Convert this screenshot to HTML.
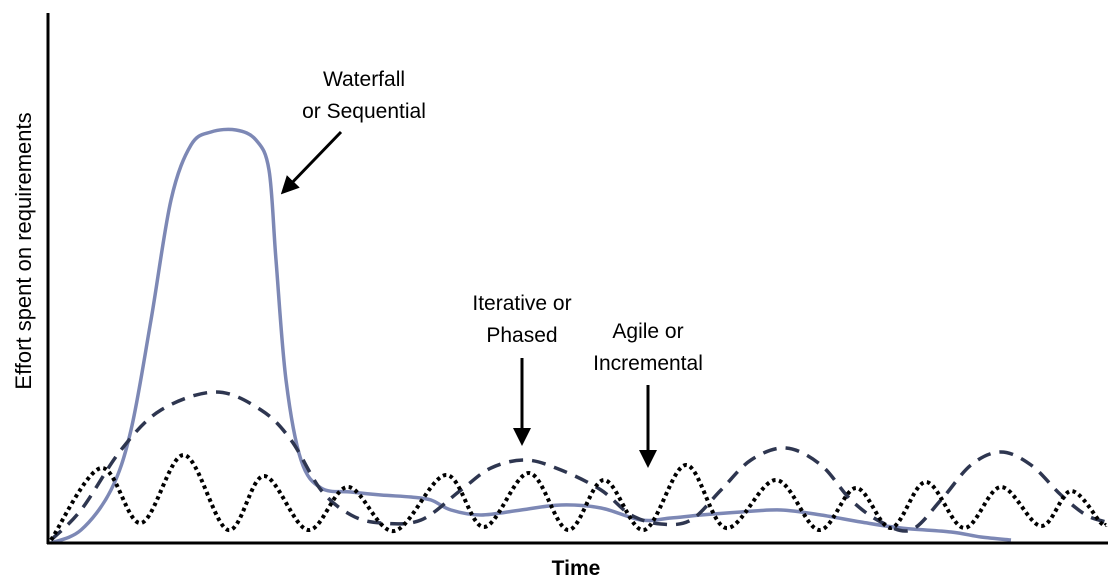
<!DOCTYPE html>
<html><head><meta charset="utf-8"><style>
html,body{margin:0;padding:0;background:#fff;}
svg{display:block;font-family:"Liberation Sans",sans-serif;}
</style></head><body>
<svg id="chart" width="1108" height="582" viewBox="0 0 1108 582">
<defs><marker id="ah" markerWidth="6" markerHeight="6" refX="4" refY="3" orient="auto" markerUnits="strokeWidth"><path d="M0,0 L6,3 L0,6 z" fill="#000"/></marker></defs>
<g id="series"></g>
<line x1="48" y1="13" x2="48" y2="544" stroke="#000" stroke-width="3"/>
<line x1="47" y1="543" x2="1108" y2="543" stroke="#000" stroke-width="3"/>
<text x="25" y="251" transform="rotate(-90 25 251)" text-anchor="middle" font-size="22" dominant-baseline="middle">Effort spent on requirements</text>
<text x="576" y="575" text-anchor="middle" font-size="21" font-weight="bold">Time</text>
<g>
<text x="364" y="86" text-anchor="middle" font-size="21">Waterfall</text>
<text x="364" y="118" text-anchor="middle" font-size="21">or Sequential</text>
<line x1="341" y1="132" x2="285" y2="190" stroke="#000" stroke-width="3" marker-end="url(#ah)"/>
</g>
<g>
<text x="522" y="310" text-anchor="middle" font-size="21">Iterative or</text>
<text x="522" y="342" text-anchor="middle" font-size="21">Phased</text>
<line x1="522" y1="358" x2="522" y2="440" stroke="#000" stroke-width="3" marker-end="url(#ah)"/>
</g>
<g>
<text x="648" y="338" text-anchor="middle" font-size="21">Agile or</text>
<text x="648" y="370" text-anchor="middle" font-size="21">Incremental</text>
<line x1="648" y1="385" x2="648" y2="462" stroke="#000" stroke-width="3" marker-end="url(#ah)"/>
</g>
</svg>
<script>
// time values (0..1058) and effort values (0..530)
const waterfallX=[3,33,63,83,103,123,143,163,188,208,221,228,238,253,273,303,333,363,383,403,433,473,513,553,593,623,653,693,733,773,813,853,903,933,963];
const waterfallY=[0,13,53,113,223,343,398,411,413,403,373,283,163,83,55,51,48,46,43,33,28,33,38,35,23,25,28,31,33,28,21,15,11,6,3];
const iterativeX=[3,33,73,113,168,213,243,273,303,333,373,413,443,478,513,553,583,613,643,673,703,738,773,803,833,863,893,923,953,983,1013,1038,1058];
const iterativeY=[3,33,93,133,151,133,103,53,28,20,23,53,75,83,73,53,28,19,23,53,83,95,78,43,21,13,43,78,91,78,48,28,21];
const agileX=[3,53,93,136,180,216,260,300,346,398,436,481,520,556,596,638,678,728,771,808,843,878,916,953,993,1023,1053,1058];
const agileY=[3,75,20,88,13,67,13,56,12,68,16,70,13,63,13,78,15,63,13,55,15,61,15,56,17,52,20,18];
const X=v=>48+v, Y=v=>543-v;
function path(xs,ys){
  const p=xs.map((x,i)=>[X(x),Y(ys[i])]);
  let d=`M${p[0][0]},${p[0][1]}`;
  for(let i=0;i<p.length-1;i++){
    const p0=p[Math.max(0,i-1)],p1=p[i],p2=p[i+1],p3=p[Math.min(p.length-1,i+2)];
    const c1=[p1[0]+(p2[0]-p0[0])/6,p1[1]+(p2[1]-p0[1])/6];
    const c2=[p2[0]-(p3[0]-p1[0])/6,p2[1]-(p3[1]-p1[1])/6];
    d+=` C${c1[0]},${c1[1]} ${c2[0]},${c2[1]} ${p2[0]},${p2[1]}`;
  }
  return d;
}
const g=document.getElementById('series');
function add(xs,ys,stroke,w,dash,name){
  const el=document.createElementNS('http://www.w3.org/2000/svg','path');
  el.setAttribute('d',path(xs,ys));
  el.setAttribute('fill','none');
  el.setAttribute('stroke',stroke);
  el.setAttribute('stroke-width',w);
  if(dash) el.setAttribute('stroke-dasharray',dash);
  
  
  g.appendChild(el);
}
add(waterfallX,waterfallY,'#7d88b5',3.5,null,'waterfall-line');
add(iterativeX,iterativeY,'#2e3650',3.5,'14 9','iterative-line');
add(agileX,agileY,'#000',4,'3.5 3.5','agile-line');
</script>
</body></html>
